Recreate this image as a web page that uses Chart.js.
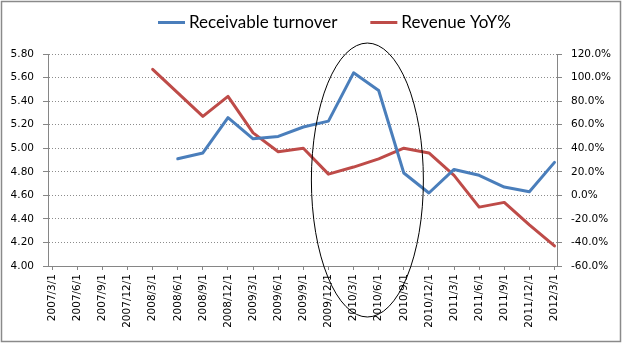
<!DOCTYPE html>
<html>
<head>
<meta charset="utf-8">
<style>
  html, body { margin: 0; padding: 0; background: #fff; }
</style>
</head>
<body>
<canvas id="chart" width="622" height="343"></canvas>
<script src="https://cdn.jsdelivr.net/npm/chart.js"></script>
<script>
// quarterly dates
const categories = [
  '2007/3/1', '2007/6/1', '2007/9/1', '2007/12/1',
  '2008/3/1', '2008/6/1', '2008/9/1', '2008/12/1',
  '2009/3/1', '2009/6/1', '2009/9/1', '2009/12/1',
  '2010/3/1', '2010/6/1', '2010/9/1', '2010/12/1',
  '2011/3/1', '2011/6/1', '2011/9/1', '2011/12/1',
  '2012/3/1'
];
// receivable turnover (left axis)
const turnover = [
  null, null, null, null,
  null, 4.91, 4.96, 5.26,
  5.08, 5.10, 5.18, 5.23,
  5.64, 5.49, 4.79, 4.62,
  4.82, 4.77, 4.67, 4.63,
  4.88
];
// revenue growth, percent (right axis)
const revenueYoY = [
  null, null, null, null,
  107, 87, 67, 84,
  53, 37, 40, 18,
  24, 31, 40, 36,
  17, -10, -6, -25,
  -43
];
const turnoverTicks = [4.0, 4.2, 4.4, 4.6, 4.8, 5.0, 5.2, 5.4, 5.6, 5.8];
const yoyTicks = [-60, -40, -20, 0, 20, 40, 60, 80, 100, 120];

const axisGray = '#868686';
const tickFont = { family: 'DejaVu Sans', size: 10.5 };

// turn a value list into {x, y} points, skipping empty quarters
function toPoints(values) {
  return values.map((v, i) => ({ x: i, y: v })).filter(p => p.y !== null);
}

// grey frame around the whole chart
const frame = {
  id: 'frame',
  beforeDraw(chart) {
    const c = chart.ctx;
    c.save();
    c.fillStyle = '#fff';
    c.fillRect(0, 0, chart.width, chart.height);
    c.strokeStyle = '#8a8a8a';
    c.lineWidth = 1.5;
    c.strokeRect(1.5, 1.5, chart.width - 3, chart.height - 3);
    c.restore();
  }
};

// legend row: short line sample followed by the series name
const legendRow = {
  id: 'legendRow',
  afterDraw(chart) {
    const c = chart.ctx;
    c.save();
    c.font = '17px Lato';
    c.textBaseline = 'alphabetic';
    c.fillStyle = '#000';
    let x = 158;
    chart.data.datasets.forEach(ds => {
      c.strokeStyle = ds.borderColor;
      c.lineWidth = 3;
      c.beginPath();
      c.moveTo(x, 22.5);
      c.lineTo(x + 27, 22.5);
      c.stroke();
      c.fillText(ds.label, x + 31, 28);
      x += 31 + c.measureText(ds.label).width + 33;
    });
    c.restore();
  }
};

// hand-drawn ring around the 2010 spike
const ring = { at: 12.55, level: 4.73, halfSpan: 2.23, halfRange: 1.163 };
const ringPlugin = {
  id: 'ring',
  afterDatasetsDraw(chart) {
    const xs = chart.scales.x, ys = chart.scales.y;
    const cx = xs.getPixelForValue(ring.at);
    const cy = ys.getPixelForValue(ring.level);
    const rx = xs.getPixelForValue(ring.at + ring.halfSpan) - cx;
    const ry = cy - ys.getPixelForValue(ring.level + ring.halfRange);
    const c = chart.ctx;
    c.save();
    c.strokeStyle = '#000';
    c.lineWidth = 1;
    c.beginPath();
    c.ellipse(cx, cy, rx, ry, 0, 0, Math.PI * 2);
    c.stroke();
    c.restore();
  }
};

const ctx = document.getElementById('chart').getContext('2d');
new Chart(ctx, {
  type: 'line',
  data: {
    datasets: [{
      label: 'Receivable turnover',
      data: toPoints(turnover),
      yAxisID: 'y',
      borderColor: '#4A7EBB',
      borderWidth: 3,
      borderJoinStyle: 'round',
      borderCapStyle: 'round',
      pointRadius: 0,
      tension: 0
    }, {
      label: 'Revenue YoY%',
      data: toPoints(revenueYoY),
      yAxisID: 'y1',
      borderColor: '#BE4B48',
      borderWidth: 3,
      borderJoinStyle: 'round',
      borderCapStyle: 'round',
      pointRadius: 0,
      tension: 0
    }]
  },
  options: {
    responsive: false,
    animation: false,
    layout: { padding: { top: 54, left: 0, right: 0, bottom: 0 } },
    plugins: {
      legend: { display: false },
      tooltip: { enabled: false }
    },
    scales: {
      x: {
        type: 'linear',
        min: -0.167,
        max: 20.1,
        afterBuildTicks: s => { s.ticks = categories.map((_, i) => ({ value: i })); },
        afterFit: s => { s.height = 77; },
        ticks: {
          callback: v => categories[v],
          autoSkip: false,
          minRotation: 90,
          maxRotation: 90,
          padding: 4,
          color: '#000',
          font: tickFont
        },
        grid: { drawOnChartArea: false, tickLength: 4, color: axisGray },
        border: { color: axisGray }
      },
      y: {
        position: 'left',
        min: 4,
        max: 5.8,
        afterBuildTicks: s => { s.ticks = turnoverTicks.map(v => ({ value: v })); },
        afterFit: s => { s.width = 48; },
        ticks: {
          callback: v => v.toFixed(2),
          padding: 9,
          color: '#000',
          font: tickFont
        },
        grid: {
          color: '#8c8c8c',
          tickLength: 5,
          tickColor: axisGray,
          tickBorderDash: []
        },
        border: { color: axisGray, dash: [1, 2] }
      },
      y1: {
        position: 'right',
        min: -60,
        max: 120,
        afterBuildTicks: s => { s.ticks = yoyTicks.map(v => ({ value: v })); },
        afterFit: s => { s.width = 65; },
        ticks: {
          callback: v => v.toFixed(1) + '%',
          padding: 9,
          color: '#000',
          font: tickFont
        },
        grid: { drawOnChartArea: false, tickLength: 5, color: axisGray },
        border: { color: axisGray }
      }
    }
  },
  plugins: [frame, legendRow, ringPlugin]
});
</script>
</body>
</html>
